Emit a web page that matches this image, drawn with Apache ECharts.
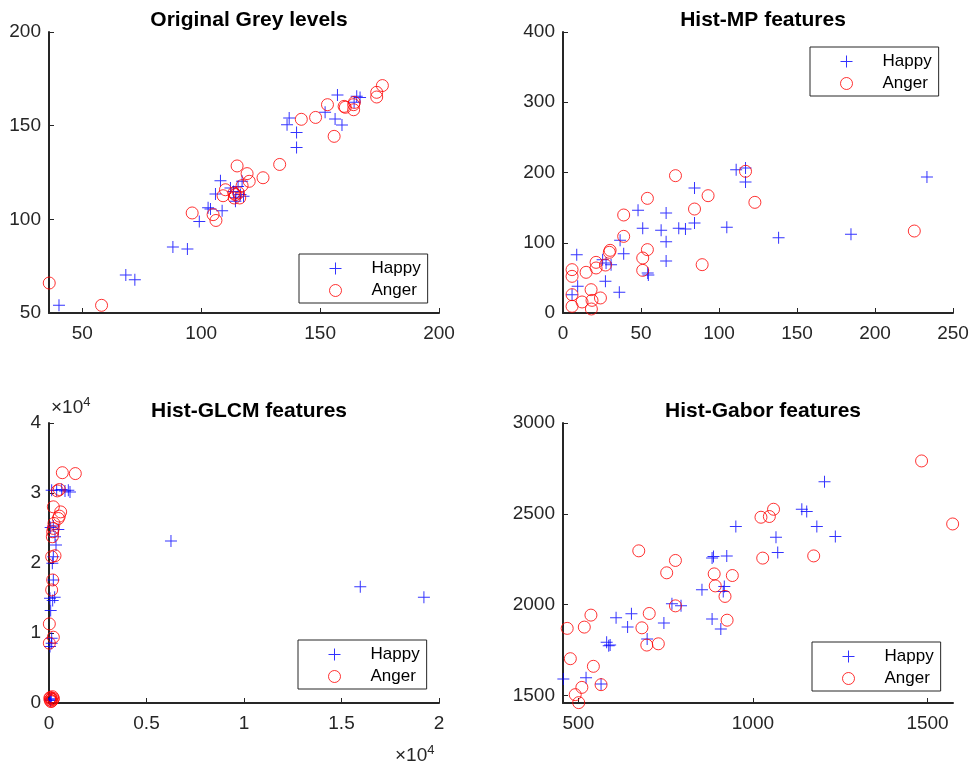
<!DOCTYPE html>
<html>
<head>
<meta charset="utf-8">
<script src="https://cdn.jsdelivr.net/npm/echarts@6/dist/echarts.min.js"></script>
<style>
  body { margin: 0; background: #fff; }
  #chart { width: 972px; height: 767px; }
</style>
</head>
<body>
<div id="chart"></div>
<script>
// Original Grey levels
const greyHappy = [[40.2,54.1],[68.3,70.3],[72.1,67.8],[88.1,85.2],[94.2,84.2],[99.2,98.9],[102.9,106.2],[103.9,105.5],[108.8,104.6],[106.0,113.5],[108.1,120.6],[112.3,116.7],[113.6,114.9],[114.4,109.6],[114.6,111.5],[116.5,113.2],[117.2,120.3],[117.8,112.3],[115.5,117.5],[136.1,150.5],[137.0,154.1],[140.1,146.4],[140.1,138.4],[152.1,157.1],[157.3,166.4],[156.3,153.6],[159.2,150.4],[164.3,162.5],[165.4,165.7],[166.8,165.1]];
const greyAnger = [[36.1,66.0],[58.1,54.1],[96.2,103.4],[105.0,102.5],[106.2,99.4],[109.2,112.6],[110.2,115.8],[113.9,111.4],[114.4,113.2],[115.7,114.1],[116.2,111.4],[113.7,114.0],[115.1,128.5],[117.2,118.0],[119.3,124.4],[120.2,120.3],[126.0,122.2],[133.0,129.3],[142.1,153.4],[148.1,154.4],[153.1,161.2],[155.9,144.3],[160.1,160.3],[160.6,159.8],[164.1,161.2],[164.1,158.5],[164.4,162.4],[173.8,167.8],[173.8,165.3],[176.2,171.4]];

// Hist-MP features
const mpHappy = [[5.8,26.1],[8.8,83.0],[9.4,38.0],[27.2,45.1],[27.6,71.2],[30.8,68.8],[25.4,75.9],[36.1,29.4],[36.6,103.4],[38.9,84.5],[48.1,146.1],[51.1,120.5],[54.3,56.9],[54.7,54.1],[62.9,117.7],[66.1,142.3],[66.1,101.5],[66.1,74.0],[74.2,120.5],[78.5,119.6],[84.3,128.1],[84.3,177.9],[105.0,121.9],[111.0,204.0],[117.0,206.4],[117.0,186.5],[138.2,107.2],[184.6,112.0],[233.3,193.6]];
const mpAnger = [[5.8,61.7],[5.8,52.2],[5.8,26.1],[5.8,9.5],[12.2,15.7],[14.8,57.9],[18.0,33.2],[18.6,18.0],[18.2,5.7],[21.2,72.1],[21.2,64.1],[24.0,21.4],[27.2,68.3],[29.7,86.4],[30.2,89.2],[38.9,139.5],[38.9,109.1],[51.1,78.3],[51.1,60.7],[54.1,163.2],[54.1,90.2],[72.1,195.5],[84.3,148.0],[89.2,68.8],[93.0,167.0],[117.0,201.7],[123.0,157.5],[225.2,116.7]];

// Hist-GLCM features
const glcmHappy = [[6255,23130],[15963,16625],[19226,15105],[51,8075],[137,8550],[137,9260],[85,13200],[188,14630],[51,14960],[290,15100],[222,17575],[171,19950],[222,20900],[359,22560],[308,23750],[478,24795],[85,25080],[222,25270],[137,30400],[393,30400],[820,30300],[991,30400],[1077,30160],[650,30500],[51,475],[120,600],[80,350]];
const glcmAnger = [[17,8550],[222,9400],[17,11300],[137,16150],[188,17575],[137,20900],[308,21040],[171,23750],[188,24460],[222,24940],[256,25650],[222,28025],[478,26360],[530,26700],[598,27300],[427,30300],[530,30500],[684,32900],[1350,32775],[60,400],[120,600],[200,500],[80,800],[150,300],[40,700],[180,900],[100,200],[230,650]];

// Hist-Gabor features
const gaborHappy = [[457,1590],[522,1597],[565,1562],[581,1793],[587,1773],[591,1777],[608,1927],[641,1876],[652,1949],[697,1810],[745,1898],[768,2004],[794,1993],[854,2081],[883,1920],[908,1865],[883,2256],[887,2265],[918,2100],[915,2072],[925,2268],[951,2430],[1066,2371],[1071,2287],[1140,2525],[1154,2512],[1183,2430],[1205,2677],[1236,2375]];
const gaborAnger = [[468,1869],[477,1702],[491,1504],[501,1460],[510,1544],[517,1876],[536,1942],[543,1660],[565,1559],[673,2296],[682,1872],[696,1777],[703,1951],[729,1784],[753,2175],[778,2243],[778,1993],[889,2169],[892,2103],[920,2045],[926,1914],[941,2160],[1023,2481],[1028,2256],[1047,2485],[1059,2525],[1174,2268],[1483,2791],[1572,2444]];

const titles = ['Original Grey levels', 'Hist-MP features', 'Hist-GLCM features', 'Hist-Gabor features'];

const plus = 'path://M5.5,0h1v5.5h5.5v1h-5.5v5.5h-1v-5.5h-5.5v-1h5.5z';
const axisColor = '#262626';
const font = '"Liberation Sans", Arial, sans-serif';

const grids = [
  { left: 49, top: 32, width: 390, height: 281 },
  { left: 563, top: 32, width: 390, height: 281 },
  { left: 49, top: 423, width: 390, height: 280 },
  { left: 563, top: 423, width: 390, height: 280 },
];

const plain = v => String(v);
const tenK = v => String(v / 10000);

function label(margin, formatter, values) {
  const l = { color: axisColor, fontSize: 19, fontFamily: font, margin: margin, formatter: formatter || plain };
  if (values) l.customValues = values;
  return l;
}

function tick(values) {
  const t = { inside: true, length: 5, lineStyle: { color: axisColor } };
  if (values) t.customValues = values;
  return t;
}

function axis(idx, min, max, interval, lab, ticks) {
  const a = {
    type: 'value', gridIndex: idx, min: min, max: max,
    axisLine: { onZero: false, lineStyle: { color: axisColor, width: 2 } },
    axisTick: tick(ticks),
    axisLabel: lab,
    splitLine: { show: false },
  };
  if (interval) a.interval = interval;
  return a;
}

const xAxes = [
  axis(0, 36, 200, null, label(11, plain, [50, 100, 150, 200]), [50, 100, 150, 200]),
  axis(1, 0, 250, 50, label(11)),
  axis(2, 0, 20000, 5000, label(11, tenK)),
  axis(3, 456, 1573, null, label(11, plain, [500, 1000, 1500]), [500, 1000, 1500]),
];

const yAxes = [
  axis(0, 50, 200, 50, label(8)),
  axis(1, 0, 400, 100, label(8)),
  axis(2, 0, 40000, 10000, label(8, tenK)),
  axis(3, 1458, 3000, null, label(8, plain, [1500, 2000, 2500, 3000]), [1500, 2000, 2500, 3000]),
];

const happyStyle = { color: '#0000ff', borderColor: '#0000ff', borderWidth: 0 };
const angerStyle = { color: 'rgba(0,0,0,0)', borderColor: '#ff0000', borderWidth: 1 };

const pairs = [[greyHappy, greyAnger], [mpHappy, mpAnger], [glcmHappy, glcmAnger], [gaborHappy, gaborAnger]];
const series = [];
pairs.forEach((p, i) => {
  series.push({ name: 'Happy', type: 'scatter', xAxisIndex: i, yAxisIndex: i, data: p[0],
    symbol: plus, symbolSize: 12, itemStyle: happyStyle, emphasis: { disabled: true } });
  series.push({ name: 'Anger', type: 'scatter', xAxisIndex: i, yAxisIndex: i, data: p[1],
    symbol: 'circle', symbolSize: 12, itemStyle: angerStyle, emphasis: { disabled: true } });
});

const legendPos = [[299, 254], [810, 47], [298, 640], [812, 642]];
const legends = legendPos.map(pos => ({
  left: pos[0], top: pos[1], orient: 'vertical',
  borderColor: axisColor, borderWidth: 1, backgroundColor: '#fff',
  padding: [6, 7, 4, 30], itemWidth: 12, itemHeight: 12, itemGap: 5,
  selectedMode: false,
  textStyle: { color: '#000', fontSize: 17, fontFamily: font, padding: [0, 0, 0, 25] },
  data: [
    { name: 'Happy', icon: plus, itemStyle: happyStyle },
    { name: 'Anger', icon: 'circle', itemStyle: angerStyle },
  ],
}));

const titleList = titles.map((t, i) => ({
  text: t,
  left: grids[i].left + grids[i].width / 2,
  top: i < 2 ? 5 : 396,
  textAlign: 'center',
  textStyle: { color: '#000', fontSize: 21, fontWeight: 'bold', fontFamily: font },
}));

const expText = {
  text: '{a|×10}{b|4}',
  rich: {
    a: { fontSize: 19, fontFamily: font, fill: axisColor, lineHeight: 24 },
    b: { fontSize: 13, fontFamily: font, fill: axisColor, verticalAlign: 'top' },
  },
};

const chart = echarts.init(document.getElementById('chart'));
chart.setOption({
  animation: false,
  backgroundColor: '#fff',
  title: titleList,
  grid: grids,
  xAxis: xAxes,
  yAxis: yAxes,
  legend: legends,
  series: series,
  graphic: [
    { type: 'text', left: 51, top: 396, style: Object.assign({}, expText) },
    { type: 'text', left: 395, top: 744, style: Object.assign({}, expText) },
  ],
});
</script>
</body>
</html>
